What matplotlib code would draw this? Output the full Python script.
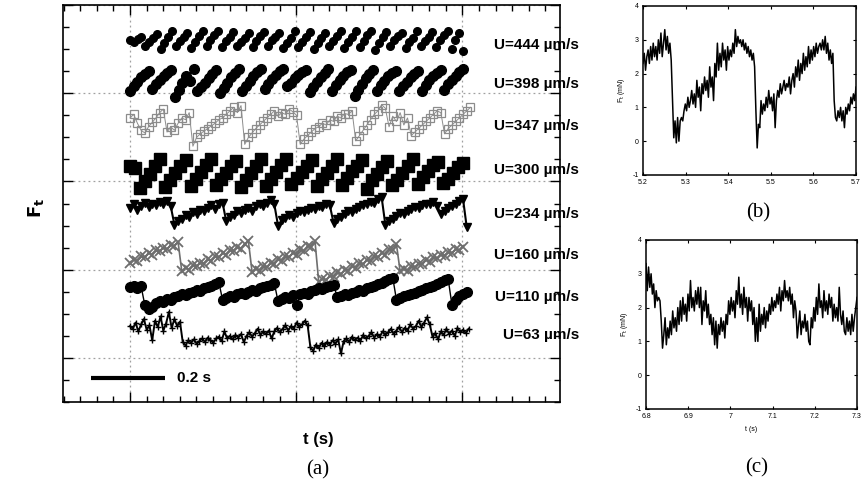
import numpy as np
import matplotlib
matplotlib.use("Agg")
import matplotlib.pyplot as plt
from matplotlib.ticker import MultipleLocator

plt.rcParams['font.family'] = ['Liberation Sans', 'DejaVu Sans']
plt.rcParams['axes.unicode_minus'] = False

# ---- panel (a): friction traces, offset vertically, time in s ----
labels = ["U=444 µm/s", "U=398 µm/s", "U=347 µm/s", "U=300 µm/s",
          "U=234 µm/s", "U=160 µm/s", "U=110 µm/s", "U=63 µm/s"]
label_y = [3.545, 3.11, 2.625, 2.125, 1.636, 1.17, 0.693, 0.26]

f444 = [3.60, 3.58, 3.62, 3.64, 3.53, 3.58, 3.63, 3.67, 3.50, 3.57, 3.64, 3.70,
        3.53, 3.59, 3.64, 3.68, 3.51, 3.58, 3.65, 3.71, 3.54, 3.60, 3.66, 3.70,
        3.52, 3.59, 3.64, 3.69, 3.53, 3.58, 3.63, 3.68, 3.52, 3.59, 3.65, 3.69,
        3.54, 3.60, 3.64, 3.68, 3.51, 3.57, 3.63, 3.70, 3.52, 3.58, 3.64, 3.69,
        3.50, 3.57, 3.63, 3.68, 3.53, 3.59, 3.65, 3.70, 3.51, 3.58, 3.64, 3.71,
        3.52, 3.59, 3.66, 3.70, 3.49, 3.57, 3.64, 3.69, 3.53, 3.60, 3.65, 3.68,
        3.51, 3.58, 3.63, 3.70, 3.53, 3.59, 3.64, 3.69, 3.52, 3.60, 3.66, 3.71,
        3.50, 3.60, 3.68, 3.48]
f398 = [3.03, 3.08, 3.13, 3.18, 3.22, 3.25, 3.05, 3.10, 3.15, 3.19, 3.23, 3.26,
        2.96, 3.04, 3.12, 3.20, 3.14, 3.28, 3.02, 3.07, 3.12, 3.17, 3.22, 3.26,
        3.00, 3.06, 3.12, 3.18, 3.23, 3.28, 3.02, 3.08, 3.14, 3.19, 3.24, 3.27,
        3.05, 3.11, 3.16, 3.21, 3.25, 3.27, 3.08, 3.12, 3.17, 3.21, 3.24, 3.26,
        3.01, 3.07, 3.13, 3.18, 3.23, 3.27, 3.03, 3.09, 3.15, 3.20, 3.24, 3.26,
        2.97, 3.04, 3.11, 3.17, 3.22, 3.26, 3.03, 3.09, 3.14, 3.19, 3.23, 3.25,
        3.02, 3.08, 3.13, 3.18, 3.22, 3.25, 3.03, 3.09, 3.15, 3.19, 3.23, 3.26,
        3.04, 3.10, 3.15, 3.20, 3.24, 3.27]
f347 = [2.72, 2.76, 2.66, 2.58, 2.55, 2.62, 2.67, 2.72, 2.78, 2.82,
        2.56, 2.62, 2.58, 2.66, 2.72, 2.70, 2.78,
        2.40, 2.50, 2.54, 2.57, 2.60, 2.63, 2.66, 2.70, 2.72, 2.76, 2.80, 2.84, 2.78, 2.86,
        2.42, 2.50, 2.55, 2.60, 2.64, 2.68, 2.72, 2.76, 2.80,
        2.74, 2.78, 2.76, 2.82, 2.79, 2.75,
        2.42, 2.48, 2.52, 2.56, 2.60, 2.62, 2.66, 2.64, 2.70, 2.68, 2.74, 2.72, 2.77, 2.76, 2.80,
        2.46, 2.52, 2.58, 2.64, 2.70, 2.76, 2.80, 2.87, 2.83,
        2.62, 2.74, 2.68, 2.78, 2.64, 2.72,
        2.52, 2.56, 2.60, 2.64, 2.68, 2.72, 2.76, 2.80, 2.78,
        2.54, 2.60, 2.64, 2.68, 2.72, 2.76, 2.80, 2.84]
f300 = [2.18, 2.15,
        1.93, 2.01, 2.09, 2.17, 2.25, 1.94, 2.02, 2.10, 2.18, 2.24,
        1.95, 2.03, 2.11, 2.19, 2.26, 1.96, 2.03, 2.10, 2.17, 2.23,
        1.94, 2.02, 2.10, 2.18, 2.25, 1.95, 2.03, 2.11, 2.19, 2.26,
        1.97, 2.04, 2.11, 2.18, 2.24, 1.95, 2.03, 2.10, 2.18, 2.25,
        1.96, 2.04, 2.12, 2.17, 2.24, 1.92, 2.02, 2.08, 2.16, 2.23,
        1.96, 2.02, 2.10, 2.18, 2.25, 1.97, 2.05, 2.12, 2.19, 2.22,
        1.98, 2.03, 2.10, 2.16, 2.21]
f234 = [1.70, 1.74, 1.68, 1.72, 1.76, 1.71, 1.75, 1.73, 1.77, 1.74, 1.78, 1.72,
        1.51, 1.55, 1.58, 1.62, 1.60, 1.65, 1.63, 1.68, 1.66, 1.70, 1.73, 1.69, 1.75, 1.76,
        1.55, 1.60, 1.62, 1.66, 1.64, 1.68, 1.70, 1.67, 1.72, 1.74, 1.72, 1.76, 1.79, 1.74,
        1.50, 1.56, 1.59, 1.62, 1.60, 1.64, 1.66, 1.65, 1.68, 1.70, 1.69, 1.72, 1.71, 1.74, 1.73,
        1.53, 1.58, 1.60, 1.63, 1.66, 1.65, 1.69, 1.71, 1.73, 1.75, 1.77, 1.76, 1.80, 1.82,
        1.51, 1.55, 1.58, 1.61, 1.64, 1.63, 1.67, 1.69, 1.71, 1.70, 1.73, 1.75, 1.74, 1.77, 1.72,
        1.63, 1.67, 1.70, 1.72, 1.75, 1.78, 1.80,
        1.48]
f160 = [1.08, 1.11, 1.10, 1.15, 1.14, 1.19, 1.17, 1.22, 1.21, 1.25, 1.23, 1.28, 1.27, 1.31,
        0.98, 1.02, 1.00, 1.05, 1.04, 1.08, 1.07, 1.12, 1.10, 1.15, 1.14, 1.19, 1.17, 1.22,
        1.21, 1.26, 1.24, 1.29, 1.32,
        0.97, 1.01, 0.99, 1.04, 1.03, 1.08, 1.06, 1.12, 1.10, 1.15, 1.14, 1.19, 1.17, 1.23,
        1.21, 1.27, 1.26, 1.32,
        0.86, 0.90, 0.88, 0.93, 0.92, 0.97, 0.95, 1.00, 0.99, 1.04, 1.02, 1.08, 1.06, 1.11,
        1.10, 1.15, 1.14, 1.19, 1.17, 1.23, 1.22, 1.29,
        0.98, 1.01, 0.99, 1.04, 1.03, 1.07, 1.06, 1.11, 1.09, 1.14, 1.13, 1.17, 1.16, 1.20,
        1.19, 1.23, 1.22, 1.26]
f110 = [0.80, 0.82, 0.79, 0.81,
        0.60, 0.55, 0.58, 0.62, 0.64, 0.63, 0.67, 0.66, 0.69, 0.70, 0.72, 0.71, 0.74, 0.75,
        0.77, 0.76, 0.79, 0.80, 0.82, 0.84, 0.86,
        0.66, 0.68, 0.70, 0.69, 0.72, 0.74, 0.73, 0.75, 0.77, 0.76, 0.79, 0.80, 0.82, 0.83, 0.85,
        0.64, 0.67, 0.69, 0.68, 0.71, 0.60, 0.72, 0.74, 0.73, 0.76, 0.77, 0.79, 0.78, 0.80,
        0.82, 0.83,
        0.69, 0.70, 0.72, 0.71, 0.74, 0.75, 0.77, 0.76, 0.79, 0.80, 0.82, 0.84, 0.85, 0.87,
        0.89, 0.91,
        0.66, 0.68, 0.70, 0.71, 0.73, 0.74, 0.76, 0.77, 0.79, 0.80, 0.82, 0.84, 0.86, 0.88, 0.89,
        0.60, 0.66, 0.70, 0.73, 0.75]
f63 = [0.36, 0.33, 0.40, 0.30, 0.38, 0.44, 0.32, 0.37, 0.20, 0.42, 0.35, 0.47, 0.31, 0.39,
       0.52, 0.34, 0.44, 0.36, 0.41,
       0.18, 0.14, 0.20, 0.17, 0.21, 0.16, 0.19, 0.22, 0.18, 0.23, 0.20, 0.17, 0.22, 0.24,
       0.19, 0.30, 0.22, 0.25, 0.21, 0.26, 0.23, 0.27, 0.18, 0.25, 0.29, 0.24, 0.28, 0.33,
       0.26, 0.30, 0.27, 0.31, 0.22, 0.30, 0.34, 0.29, 0.33, 0.37, 0.31, 0.36, 0.33, 0.40,
       0.35, 0.38, 0.42, 0.37,
       0.12, 0.08, 0.15, 0.11, 0.17, 0.13, 0.18, 0.15, 0.20, 0.16, 0.21, 0.05, 0.19, 0.22,
       0.18, 0.24, 0.20, 0.23, 0.19, 0.26, 0.22, 0.25, 0.29, 0.23, 0.27, 0.24, 0.30, 0.26,
       0.29, 0.33, 0.27, 0.31, 0.35, 0.29, 0.34, 0.31, 0.38, 0.33, 0.36, 0.42, 0.35, 0.40,
       0.46, 0.38,
       0.24, 0.28, 0.21, 0.30, 0.26, 0.33, 0.27, 0.31, 0.25, 0.34, 0.29, 0.32, 0.28, 0.33]

# sample times for each trace
t444 = np.linspace(0, 0.9, len(f444))
t398 = np.linspace(0, 0.9, len(f398))
t347 = 0.01 * np.arange(len(f347))
t300 = np.linspace(0, 0.9, len(f300))
t234 = 0.01 * np.arange(len(f234))
t160 = 0.01 * np.arange(len(f160))
t110 = 0.01 * np.arange(len(f110))
t63 = 0.0075 * np.arange(len(f63))

# ---- panels (b) and (c): F_t (mN) ----
fb = [2.3, 2.6, 2.1, 2.5, 2.7, 2.3, 2.8, 2.4, 2.9, 2.5,
      2.8, 2.4, 3.0, 2.6, 3.2, 2.5, 2.9, 3.3, 2.7, 3.1,
      2.6, 2.9, 2.4, 1.2, 0.1, 0.6, -0.05, 0.7, 0.0, 0.6,
      0.7, 0.6, 0.9, 1.1, 0.9, 1.3, 1.0, 1.2, 1.5, 1.1,
      1.4, 1.0, 1.8, 1.3, 1.6, 0.9, 1.7, 1.4, 1.9, 1.5,
      1.8, 1.3, 2.2, 1.6, 1.9, 1.2, 2.3, 1.9, 2.9, 2.1,
      2.6, 2.2, 2.9, 2.4, 2.7, 2.1, 2.8, 2.4, 2.7, 2.5,
      2.9, 2.6, 3.3, 2.8, 3.1, 2.9, 3.0, 2.8, 3.0, 2.7,
      2.9, 2.6, 2.8, 2.5, 2.7, 2.4, 2.6, 2.2, 0.9, -0.2,
      0.5, 0.4, 1.2, 0.8, 1.1, 0.9, 1.3, 1.0, 1.5, 1.1,
      1.3, 0.9, 1.4, 0.4, 1.2, 1.5, 1.3, 1.7, 1.4, 1.6,
      1.8, 1.5, 1.7, 1.6, 1.9, 1.4, 1.8, 2.0, 1.6, 2.2,
      1.9, 2.4, 1.8, 2.3, 2.0, 2.6, 2.1, 2.5, 2.2, 2.8,
      2.3, 2.7, 2.4, 2.8, 2.5, 2.9, 2.6, 2.8, 2.9, 2.7,
      3.0, 2.7, 3.1, 2.6, 2.9, 2.4, 2.7, 2.3, 2.6, 1.2,
      0.7, 0.6, 0.9, 0.7, 1.0, 0.6, 0.9, 0.4, 1.0, 0.8,
      1.1, 0.9, 1.3, 1.1, 1.4, 1.2, 1.6]
fc = [3.3, 2.5, 3.2, 2.6, 3.0, 2.4, 2.7, 2.0, 2.5, 2.2,
      2.3, 2.2, 1.6, 0.8, 1.2, 1.7, 0.9, 1.4, 1.1, 1.6,
      1.2, 1.9, 1.4, 1.7, 1.3, 2.0, 1.5, 2.2, 1.6, 2.3,
      1.8, 2.1, 1.6, 2.4, 1.9, 2.8, 2.0, 2.3, 1.9, 2.5,
      2.1, 2.6, 2.0, 2.6, 1.5, 2.2, 1.9, 2.5, 1.7, 2.1,
      1.5, 1.8, 1.2, 1.7, 0.9, 1.6, 0.8, 1.5, 1.2, 1.7,
      1.3, 1.6, 1.1, 1.8, 1.5, 2.2, 1.8, 2.3, 1.9, 2.2,
      1.7, 2.5, 2.1, 2.9, 2.0, 2.4, 1.8, 2.6, 2.0, 2.3,
      1.6, 2.3, 1.9, 2.2, 1.5, 2.0, 1.0, 1.7, 1.0, 2.1,
      1.3, 1.8, 1.5, 2.0, 1.4, 1.9, 1.6, 2.1, 1.8, 2.3,
      1.9, 2.2, 2.0, 2.4, 2.1, 2.6, 1.9, 2.5, 2.2, 2.8,
      2.3, 2.5, 2.2, 2.6, 2.1, 2.4, 1.7, 2.2, 1.9, 1.1,
      1.5, 1.9, 1.2, 1.6, 1.4, 1.8, 1.3, 1.6, 1.0, 0.9,
      1.7, 1.4, 2.0, 1.6, 2.3, 1.8, 2.7, 2.0, 2.2, 1.7,
      2.5, 1.9, 2.2, 1.8, 2.4, 2.0, 2.3, 1.6, 2.1, 1.7,
      2.0, 1.6, 2.6, 1.8, 1.5, 1.9, 1.3, 1.2, 1.7, 1.3,
      1.6, 1.2, 1.8, 1.3, 1.7, 2.0, 2.3]
tb = np.linspace(5.2, 5.7, len(fb))
tc = np.linspace(6.8, 7.3, len(fc))

fig = plt.figure(figsize=(8.67, 4.87), dpi=100)

ax = fig.add_axes([0.0727, 0.1745, 0.5732, 0.8152])
gray = '#8c8c8c'
dgray = '#6e6e6e'
ax.plot(t444, f444, 'o', color='black', ms=5.5)
ax.plot(t398, f398, 'o', color='black', ms=7)
ax.plot(t347, f347, '-s', color=gray, mfc='none', mec=gray, ms=5.5, lw=0.7, mew=0.9)
ax.plot(t300, f300, 's', color='black', ms=8.5)
ax.plot(t234, f234, '-v', color='black', ms=5.5, lw=1.5)
ax.plot(t160, f160, '-x', color=dgray, ms=6.5, lw=1.2, mew=1.3)
ax.plot(t110, f110, '-o', color='black', ms=7, lw=1.0)
ax.plot(t63, f63, '-+', color='black', ms=5, lw=1.4, mew=1.0)

for lab, y in zip(labels, label_y):
    ax.text(1.038, y, lab, transform=ax.get_yaxis_transform(), ha='right', va='center',
            fontsize=11, fontweight='bold', clip_on=False)

# scale bar
ax.plot([-0.105, 0.095], [-0.227, -0.227], color='black', lw=3, solid_capstyle='butt')
ax.text(0.127, -0.227, "0.2 s", fontsize=11, fontweight='bold', va='center')

ax.set_xlim(-0.181, 1.162)
ax.set_ylim(-0.5, 4.0)
ax.xaxis.set_major_locator(MultipleLocator(0.449))
ax.xaxis.set_minor_locator(MultipleLocator(0.0449))
ax.yaxis.set_major_locator(MultipleLocator(1))
ax.yaxis.set_minor_locator(MultipleLocator(0.25))
ax.tick_params(which='both', direction='in', top=True, right=True,
               labelbottom=False, labelleft=False)
ax.tick_params(which='major', length=7, width=1)
ax.tick_params(which='minor', length=4, width=1)
ax.grid(True, which='major', color='#a0a0a0', ls=(0, (1.5, 2.5)), lw=0.9)
for s in ax.spines.values():
    s.set_linewidth(1.2)
ax.set_xlabel("t (s)", fontsize=12, fontweight='bold')
ax.xaxis.set_label_coords(0.513, -0.075)
ax.set_ylabel(r"$\mathbf{F_t}$", fontsize=13)
ax.yaxis.set_label_coords(-0.035, 0.49)
fig.text(318 / 867, 1 - 470 / 487, "(a)", fontsize=15, family='Liberation Serif',
         ha='center', va='center')

# small panels
def small_panel(rect, t, f, x0, x1, xlabel):
    a = fig.add_axes(rect)
    a.plot(t, f, color='black', lw=1.1)
    a.set_xlim(x0, x1)
    a.set_ylim(-1, 4)
    a.set_xticks(np.round(np.arange(x0, x1 + 0.01, 0.1), 1))
    a.set_yticks([-1, 0, 1, 2, 3, 4])
    a.tick_params(direction='in', top=True, right=True, labelsize=5, length=2.5, pad=3)
    a.set_ylabel(r"F$_\mathrm{t}$ (mN)", fontsize=5, labelpad=4)
    if xlabel:
        a.set_xlabel("t (s)", fontsize=5, labelpad=4)
    for s in a.spines.values():
        s.set_linewidth(1.1)
    return a

axb = small_panel([0.7416, 0.6407, 0.2457, 0.347], tb, fb, 5.2, 5.7, False)
axc = small_panel([0.7451, 0.1602, 0.2434, 0.347], tc, fc, 6.8, 7.3, True)
axc.set_xticklabels(["6.8", "6.9", "7", "7.1", "7.2", "7.3"])
fig.text(758 / 867, 1 - 213 / 487, "(b)", fontsize=15, family='Liberation Serif',
         ha='center', va='center')
fig.text(757 / 867, 1 - 468 / 487, "(c)", fontsize=15, family='Liberation Serif',
         ha='center', va='center')

fig.savefig("out.png", dpi=100)
